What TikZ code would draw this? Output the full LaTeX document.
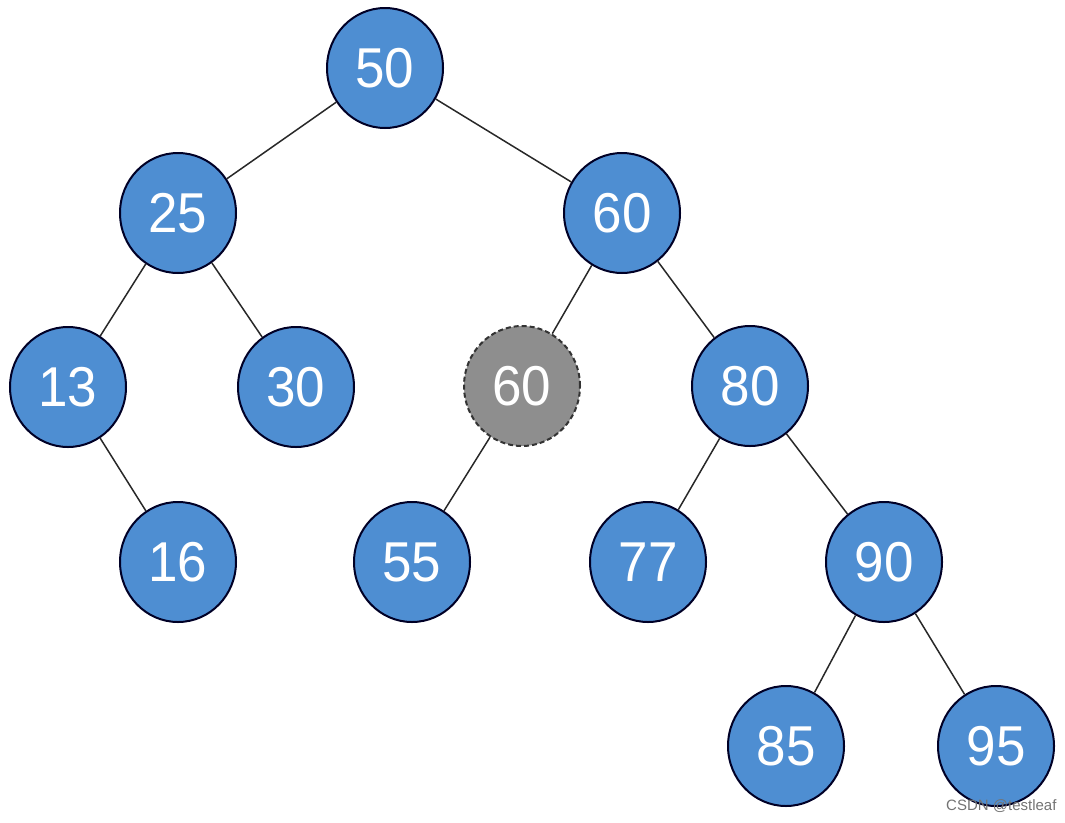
\documentclass[tikz,border=0pt]{standalone}
\usepackage{fontspec}
\setmainfont{Liberation Sans}
\usetikzlibrary{shapes.geometric}
\definecolor{nodeblue}{RGB}{78,142,210}
\definecolor{nodegray}{RGB}{142,142,142}
\definecolor{edgecol}{RGB}{40,40,40}
\newcommand{\numtxt}[1]{\scalebox{1}[1.06]{#1}}
\begin{document}
\begin{tikzpicture}[x=1pt,y=-1pt,
  tnode/.style={ellipse, draw=black!85!blue, line width=2pt, fill=nodeblue,
    minimum width=116pt, minimum height=120pt, inner sep=0pt, text=white,
    font=\fontsize{53}{53}\selectfont},
  gnode/.style={tnode, fill=nodegray, draw=black!80, dash pattern=on 5pt off 3pt},
  edge/.style={draw=edgecol, line width=1.5pt}]
\useasboundingbox (0,0) rectangle (1065,822);
\node[tnode] (n50) at (385,68) {\numtxt{50}};
\node[tnode] (n25) at (178,213) {\numtxt{25}};
\node[tnode] (n60) at (622,213) {\numtxt{60}};
\node[tnode] (n13) at (68,387) {\numtxt{13}};
\node[tnode] (n30) at (296,387) {\numtxt{30}};
\node[gnode] (g60) at (522,386) {\numtxt{60}};
\node[tnode] (n80) at (750,386) {\numtxt{80}};
\node[tnode] (n16) at (178,562) {\numtxt{16}};
\node[tnode] (n55) at (412,562) {\numtxt{55}};
\node[tnode] (n77) at (648,562) {\numtxt{77}};
\node[tnode] (n90) at (884,562) {\numtxt{90}};
\node[tnode] (n85) at (786,746) {\numtxt{85}};
\node[tnode] (n95) at (996,746) {\numtxt{95}};
\foreach \a/\b in {n50/n25,n50/n60,n25/n13,n25/n30,n13/n16,n60/g60,n60/n80,g60/n55,n80/n77,n80/n90,n90/n85,n90/n95}
  \draw[edge] (\a) -- (\b);
\node[anchor=east, text=black!55, font=\fontsize{15}{15}\selectfont] (wm) at (1060,806) {CSDN @testleaf};
\end{tikzpicture}
\end{document}
